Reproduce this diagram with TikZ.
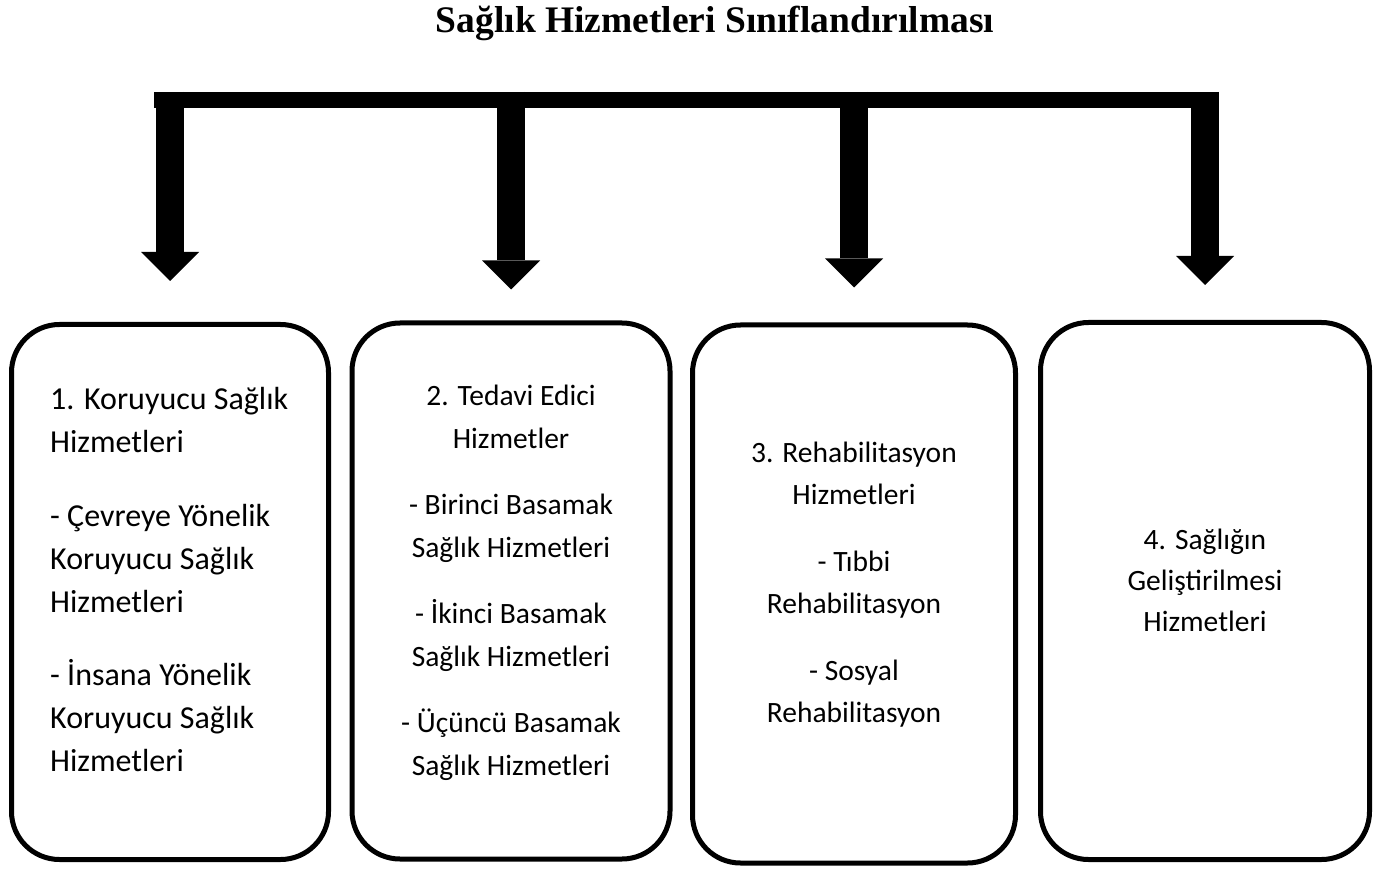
\documentclass[tikz,border=0pt]{standalone}
\usepackage{fontspec}
\setmainfont{Carlito}
\newfontfamily\titlefont{Liberation Serif}
\usetikzlibrary{arrows.meta}

\begin{document}
\begin{tikzpicture}[x=1pt, y=-1pt,
		box/.style={draw, line width=5pt, rounded corners=48pt, inner sep=0pt},
		txt/.style={inner sep=0pt, font=\fontsize{29.5}{42}\selectfont},
		stem/.style={line width=28pt, -{Triangle[width=58pt, length=29pt, line width=0pt]}}]
		\useasboundingbox (0,0) rectangle (1386,874);
		\node[font=\titlefont\bfseries\fontsize{37.5}{44}\selectfont] (title) at (715,23) {Sağlık Hizmetleri Sınıflandırılması};
		% Boxes
		\node[box, minimum width=317pt, minimum height=535pt] (b1) at (170,592) {};
		\node[box, minimum width=318pt, minimum height=536pt] (b2) at (511,591) {};
		\node[box, minimum width=323pt, minimum height=538pt] (b3) at (854,594) {};
		\node[box, minimum width=329pt, minimum height=537pt] (b4) at (1205,591) {};
		% Texts
		\node[txt, align=left, anchor=west, font=\fontsize{32}{43}\selectfont] (t1) at ([xshift=41pt, yshift=12pt]b1.west) {1. Koruyucu Sağlık\\Hizmetleri\\[31pt]- Çevreye Yönelik\\Koruyucu Sağlık\\Hizmetleri\\[30pt]- İnsana Yönelik\\Koruyucu Sağlık\\Hizmetleri};
		\node[txt, align=center, font=\fontsize{29.5}{43}\selectfont] (t2) at ([yshift=8pt]b2.center) {2. Tedavi Edici\\Hizmetler\\[23pt]- Birinci Basamak\\Sağlık Hizmetleri\\[23pt]- İkinci Basamak\\Sağlık Hizmetleri\\[23pt]- Üçüncü Basamak\\Sağlık Hizmetleri};
		\node[txt, align=center] (t3) at ([yshift=9.5pt]b3.center) {3. Rehabilitasyon\\Hizmetleri\\[25pt]- Tıbbi\\Rehabilitasyon\\[25pt]- Sosyal\\Rehabilitasyon};
		\node[txt, align=center, font=\fontsize{29.5}{41}\selectfont] (t4) at ([yshift=11pt]b4.center) {4. Sağlığın\\Geliştirilmesi\\Hizmetleri};
		% Arrows
		\node[fill, inner sep=0pt, minimum width=1065pt, minimum height=16pt] (bar) at (686.5,100) {};
		\draw[stem] (bar.north -| b1.north) -- ([yshift=41pt]b1.north);
		\draw[stem] (bar.north -| b2.north) -- ([yshift=31pt]b2.north);
		\draw[stem] (bar.north -| b3.north) -- ([yshift=35pt]b3.north);
		\draw[stem] (bar.north -| b4.north) -- ([yshift=35pt]b4.north);
	\end{tikzpicture}
\end{document}
